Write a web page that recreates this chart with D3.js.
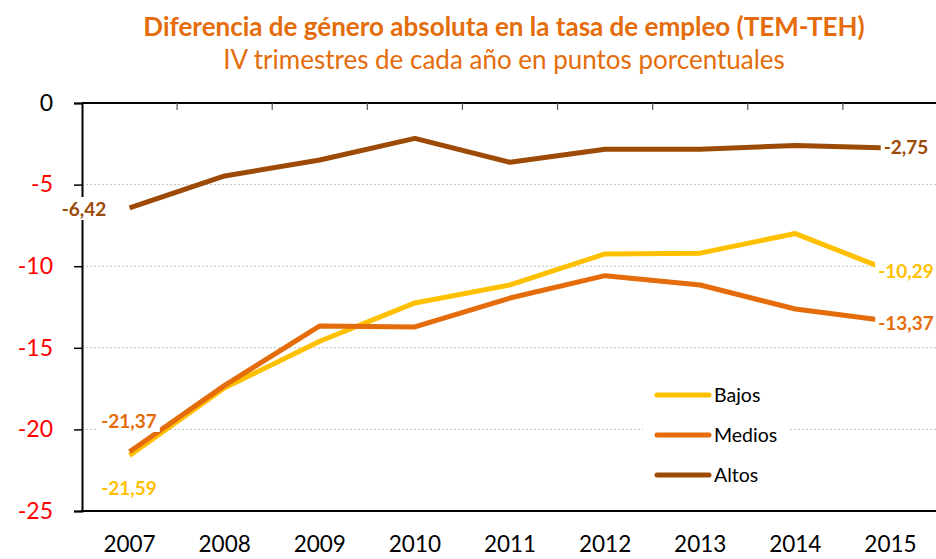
<!DOCTYPE html>
<meta charset="utf-8">
<style>
body { margin: 0; background: #fff; }
text { font-family: Lato, "Open Sans", sans-serif; }
.line { fill: none; stroke-width: 5px; stroke-linejoin: round; }
.grid line { stroke: #bfbfbf; stroke-dasharray: 2,2; }
</style>
<body>
<script src="https://d3js.org/d3.v7.min.js"></script>
<script>

// data
var years = ["2007","2008","2009","2010","2011","2012","2013","2014","2015"];
var bajos  = [-21.59, -17.45, -14.6, -12.25, -11.15, -9.25, -9.2, -8.0, -10.29];
var medios = [-21.37, -17.3, -13.66, -13.72, -11.95, -10.58, -11.15, -12.62, -13.37];
var altos  = [-6.42, -4.47, -3.49, -2.17, -3.63, -2.84, -2.84, -2.6, -2.75];
var yTicks = [0, -5, -10, -15, -20, -25];

var series = [
  {name: "Bajos",  values: bajos,  color: "#ffc000"},
  {name: "Medios", values: medios, color: "#e46c0a"},
  {name: "Altos",  values: altos,  color: "#9c4a06"}
];

var W = 936, H = 559;
var plotLeft = 82, plotRight = 938, plotTop = 103, plotBottom = 511;

var svg = d3.select("body").append("svg")
    .attr("width", W)
    .attr("height", H);

// titles
svg.append("text")
    .attr("x", 504).attr("y", 36)
    .attr("text-anchor", "middle")
    .attr("font-size", "26px")
    .attr("font-weight", "bold")
    .attr("fill", "#e46c0a")
    .text("Diferencia de género absoluta en la tasa de empleo (TEM-TEH)");
svg.append("text")
    .attr("x", 504).attr("y", 69)
    .attr("text-anchor", "middle")
    .attr("font-size", "26px")
    .attr("fill", "#e46c0a")
    .text("IV trimestres de cada año en puntos porcentuales");

// scales
var x = d3.scaleBand().domain(years).range([plotLeft, plotRight]);
var y = d3.scaleLinear().domain([-25, 0]).range([plotBottom, plotTop]);
var cx = function(i) { return x(years[i]) + x.bandwidth() / 2; };

// gridlines
svg.append("g")
    .attr("class", "grid")
  .selectAll("line")
  .data(yTicks.filter(function(d) { return d < 0 && d > -25; }))
  .enter().append("line")
    .attr("x1", plotLeft).attr("x2", plotRight)
    .attr("y1", function(d) { return y(d); })
    .attr("y2", function(d) { return y(d); });

// y axis
var yAxis = svg.append("g")
    .attr("transform", "translate(" + plotLeft + ",0)")
    .call(d3.axisLeft(y).tickValues(yTicks).tickSize(8)
      .tickFormat(function(d) { return String(d); }));
yAxis.select(".domain").attr("stroke", "#000").attr("stroke-width", 2);
yAxis.selectAll(".tick line").attr("stroke", "#000").attr("stroke-width", 1.5);
yAxis.selectAll(".tick text")
    .attr("font-size", "23px")
    .attr("font-family", "Lato, sans-serif")
    .attr("x", -29)
    .attr("fill", function(d) { return d === 0 ? "#000" : "#ff0000"; });

// top line at 0 with ticks between years
svg.append("line")
    .attr("x1", plotLeft).attr("x2", plotRight)
    .attr("y1", y(0)).attr("y2", y(0))
    .attr("stroke", "#000").attr("stroke-width", 2);
svg.append("g").selectAll("line")
  .data(years.slice(1))
  .enter().append("line")
    .attr("x1", function(d) { return x(d); })
    .attr("x2", function(d) { return x(d); })
    .attr("y1", y(0)).attr("y2", y(0) + 7)
    .attr("stroke", "#555").attr("stroke-width", 1.2);

// bottom line
svg.append("line")
    .attr("x1", plotLeft - 1).attr("x2", plotRight)
    .attr("y1", y(-25)).attr("y2", y(-25))
    .attr("stroke", "#000").attr("stroke-width", 2);

// year labels
svg.append("g").selectAll("text")
  .data(years)
  .enter().append("text")
    .attr("x", function(d, i) { return cx(i); })
    .attr("y", 552)
    .attr("text-anchor", "middle")
    .attr("font-size", "22.5px")
    .attr("fill", "#000")
    .text(function(d) { return d; });

// lines
var line = d3.line()
    .x(function(d, i) { return cx(i); })
    .y(function(d) { return y(d); });

svg.append("g").selectAll("path")
  .data(series)
  .enter().append("path")
    .attr("class", "line")
    .attr("stroke", function(d) { return d.color; })
    .attr("d", function(d) { return line(d.values); });

// value labels
var fmt = function(v) { return v.toFixed(2).replace(".", ","); };
var labels = [
  {s: series[2], i: 0, x: 84,  y: 216},
  {s: series[1], i: 0, x: 129, y: 428},
  {s: series[0], i: 0, x: 129, y: 495},
  {s: series[2], i: 8, x: 906, y: 154},
  {s: series[0], i: 8, x: 906, y: 278},
  {s: series[1], i: 8, x: 906, y: 330}
];
var lab = svg.append("g").selectAll("g")
  .data(labels)
  .enter().append("g");
lab.append("text")
    .attr("x", function(d) { return d.x; })
    .attr("y", function(d) { return d.y; })
    .attr("text-anchor", "middle")
    .attr("font-size", "19px")
    .attr("font-weight", "bold")
    .attr("fill", function(d) { return d.s.color; })
    .text(function(d) { return fmt(d.s.values[d.i]); });
lab.each(function() {
  var g = d3.select(this), b = g.select("text").node().getBBox();
  g.insert("rect", "text")
    .attr("x", b.x - 3).attr("y", b.y)
    .attr("width", b.width + 6).attr("height", b.height)
    .attr("fill", "#fff");
});

// legend
var legend = svg.append("g");
legend.append("rect")
    .attr("x", 643).attr("y", 375)
    .attr("width", 147).attr("height", 118)
    .attr("fill", "#fff");
var li = legend.selectAll("g")
  .data(series)
  .enter().append("g")
    .attr("transform", function(d, i) { return "translate(0," + (395 + i * 40) + ")"; });
li.append("line")
    .attr("x1", 657).attr("x2", 709)
    .attr("stroke", function(d) { return d.color; })
    .attr("stroke-width", 5)
    .attr("stroke-linecap", "round");
li.append("text")
    .attr("x", 714).attr("y", 7)
    .attr("font-size", "19.5px")
    .attr("fill", "#000")
    .text(function(d) { return d.name; });

</script>
</body>
